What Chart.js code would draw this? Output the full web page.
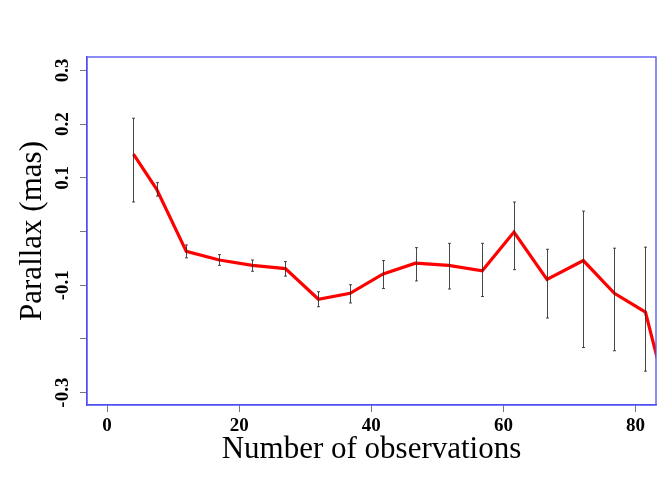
<!DOCTYPE html>
<html>
<head>
<meta charset="utf-8">
<script src="https://cdn.jsdelivr.net/npm/chart.js@4"></script>
<style>
  html, body { margin: 0; padding: 0; background: #fff; }
  canvas { display: block; }
</style>
</head>
<body>
<canvas id="parallaxChart" width="670" height="478"></canvas>
<script>
// data
const nObs = [4, 7.5, 12, 17, 22, 27, 32, 36.8, 41.8, 46.7, 51.7, 56.8, 61.6, 66.6, 72.1, 76.8, 81.5, 86.5];
const parallax = [0.144, 0.079, -0.037, -0.053, -0.063, -0.069, -0.126, -0.115, -0.079, -0.059, -0.063, -0.073, -0.001, -0.089, -0.054, -0.115, -0.150, -0.39];
const errTop = [0.211, 0.091, -0.025, -0.043, -0.053, -0.056, -0.112, -0.099, -0.054, -0.030, -0.022, -0.022, 0.055, -0.033, 0.038, -0.031, -0.029, null];
const errBottom = [0.055, 0.066, -0.049, -0.063, -0.074, -0.083, -0.140, -0.133, -0.106, -0.092, -0.107, -0.121, -0.071, -0.161, -0.216, -0.222, -0.260, null];

const xTicks = [0, 20, 40, 60, 80];
const yTicks = [-0.3, -0.2, -0.1, 0, 0.1, 0.2, 0.3];
const yTickLabels = ['-0.3', '', '-0.1', '', '0.1', '0.2', '0.3'];

const boxColor = '#4f4ff2';

// error bars + frame
const errorBars = {
  id: 'errorBars',
  afterDatasetsDraw(chart) {
    const { ctx, chartArea, scales } = chart;
    ctx.save();
    ctx.beginPath();
    ctx.rect(chartArea.left, chartArea.top, chartArea.right - chartArea.left, chartArea.bottom - chartArea.top);
    ctx.clip();
    ctx.strokeStyle = 'rgba(40,40,40,0.85)';
    ctx.lineWidth = 1;
    nObs.forEach((n, i) => {
      if (errTop[i] === null) return;
      const x = Math.round(scales.x.getPixelForValue(n)) + 0.5;
      const yt = scales.y.getPixelForValue(errTop[i]);
      const yb = scales.y.getPixelForValue(errBottom[i]);
      ctx.beginPath();
      ctx.moveTo(x, yt);
      ctx.lineTo(x, yb);
      ctx.moveTo(x - 1.5, yt);
      ctx.lineTo(x + 1.5, yt);
      ctx.moveTo(x - 1.5, yb);
      ctx.lineTo(x + 1.5, yb);
      ctx.stroke();
    });
    ctx.restore();
  },
  afterDraw(chart) {
    const { ctx, chartArea } = chart;
    ctx.save();
    ctx.strokeStyle = boxColor;
    ctx.lineWidth = 1.3;
    ctx.strokeRect(chartArea.left, chartArea.top, chartArea.right - chartArea.left, chartArea.bottom - chartArea.top);
    ctx.restore();
  }
};

const ctx = document.getElementById('parallaxChart').getContext('2d');

new Chart(ctx, {
  type: 'line',
  data: {
    datasets: [{
      data: nObs.map((n, i) => ({ x: n, y: parallax[i] })),
      borderColor: '#ff0000',
      borderWidth: 3.2,
      pointRadius: 0,
      tension: 0,
      fill: false
    }]
  },
  options: {
    responsive: false,
    animation: false,
    devicePixelRatio: 1,
    layout: { padding: { top: 57, right: 14, left: 0, bottom: 0 } },
    plugins: {
      legend: { display: false },
      tooltip: { enabled: false }
    },
    scales: {
      x: {
        type: 'linear',
        min: -3.03,
        max: 83.1,
        afterBuildTicks: (scale) => { scale.ticks = xTicks.map(v => ({ value: v })); },
        afterFit: (scale) => { scale.height = 73; },
        grid: { drawOnChartArea: false, tickLength: 7, color: '#777' },
        border: { color: boxColor, width: 1.3 },
        ticks: {
          color: '#000',
          padding: 3,
          maxRotation: 0,
          font: { family: 'Liberation Serif', size: 19, weight: 'bold' }
        },
        title: {
          display: true,
          text: 'Number of observations',
          color: '#000',
          padding: { top: 0, bottom: 10 },
          font: { family: 'Liberation Serif', size: 31, weight: 'normal' }
        }
      },
      y: {
        type: 'linear',
        min: -0.323,
        max: 0.325,
        afterBuildTicks: (scale) => { scale.ticks = yTicks.map(v => ({ value: v })); },
        afterFit: (scale) => { scale.width = 87; },
        grid: { drawOnChartArea: false, tickLength: 7, color: '#777' },
        border: { color: boxColor, width: 1.3 },
        ticks: {
          color: '#000',
          padding: 2,
          minRotation: 90,
          maxRotation: 90,
          crossAlign: 'center',
          font: { family: 'Liberation Serif', size: 19, weight: 'bold' },
          callback: (value, index) => yTickLabels[index]
        },
        title: {
          display: true,
          text: 'Parallax (mas)',
          color: '#000',
          padding: { top: 14, bottom: 0 },
          font: { family: 'Liberation Serif', size: 31, weight: 'normal' }
        }
      }
    }
  },
  plugins: [errorBars]
});
</script>
</body>
</html>
